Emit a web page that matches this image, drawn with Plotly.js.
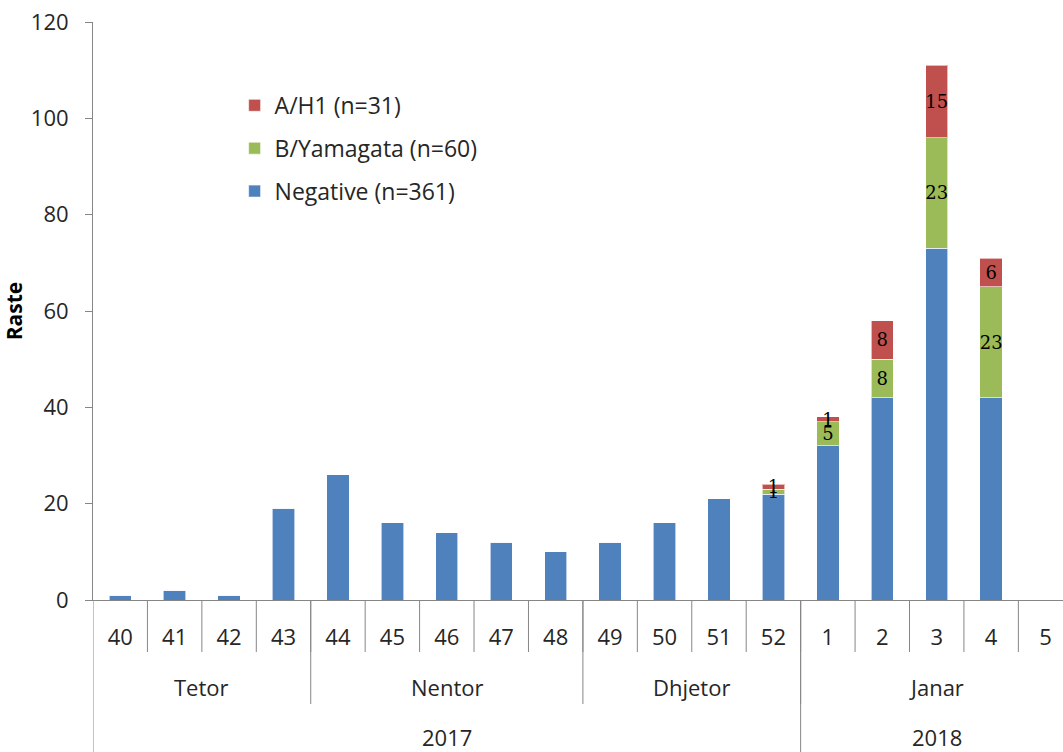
<!DOCTYPE html>
<html>
<head>
<meta charset="utf-8">
<script src="https://cdn.plot.ly/plotly-3.0.1.min.js"></script>
<style>
  html, body { margin: 0; padding: 0; background: #fff; }
  #chart { width: 1063px; height: 752px; }
</style>
</head>
<body>
<div id="chart"></div>
<script>
// weekly counts, weeks 40/2017 .. 5/2018
const weeks = ['40','41','42','43','44','45','46','47','48','49','50','51','52','1','2','3','4','5'];
const negative  = [1, 2, 1, 19, 26, 16, 14, 12, 10, 12, 16, 21, 22, 32, 42, 73, 42, 0];
const yamagata  = [0, 0, 0, 0, 0, 0, 0, 0, 0, 0, 0, 0, 1, 5, 8, 23, 23, 0];
const ah1       = [0, 0, 0, 0, 0, 0, 0, 0, 0, 0, 0, 0, 1, 1, 8, 15, 6, 0];

const months     = ['Tetor', 'Nentor', 'Dhjetor', 'Janar'];
const monthSpans = [4, 5, 4, 5];
const years      = ['2017', '2018'];
const yearSpans  = [13, 5];

const seriesNames = ['Negative (n=361)', 'B/Yamagata (n=60)', 'A/H1 (n=31)'];
const colors = ['#4F81BD', '#9BBB59', '#C0504D'];

const font = '"Open Sans", Lato, sans-serif';
const txt = '#262626';
const grey = '#868686';

function labels(vals) {
  return vals.map(v => v > 0 ? String(v) : '');
}

const traces = [negative, yamagata, ah1].map((vals, i) => ({
  type: 'bar',
  name: seriesNames[i],
  legendgroup: 'g' + i,
  legendrank: 3 - i,
  x: weeks,
  y: vals,
  width: 0.41,
  marker: {color: colors[i], line: {color: 'rgba(255,255,255,0.6)', width: 1}},
  text: i === 0 ? undefined : labels(vals),
  textposition: i === 0 ? 'none' : 'inside',
  insidetextanchor: 'middle',
  textangle: 0,
  textfont: {family: '"DejaVu Serif", "Liberation Serif", serif', size: 18, color: '#000'},
  hoverinfo: 'x+y+name',
}));

// dividers under the axis and group labels
const shapes = [];
const annotations = [];
const n = weeks.length;
shapes.push({type: 'line', xref: 'x', yref: 'paper', x0: -0.5, x1: -0.5, y0: 0, y1: -0.27,
  line: {color: grey, width: 1}});
for (let i = 0; i < n - 1; i++) {
  shapes.push({type: 'line', xref: 'x', yref: 'paper', x0: i + 0.5, x1: i + 0.5, y0: 0, y1: -0.09,
    line: {color: grey, width: 1}});
}
let start = 0;
months.forEach((m, k) => {
  const end = start + monthSpans[k];
  annotations.push({xref: 'x', yref: 'paper', x: (start + end - 1) / 2, y: -0.151, text: m,
    showarrow: false, yanchor: 'middle', font: {family: font, size: 22, color: txt}});
  if (k < months.length - 1) {
    shapes.push({type: 'line', xref: 'x', yref: 'paper', x0: end - 0.5, x1: end - 0.5, y0: 0, y1: -0.18,
      line: {color: grey, width: 1}});
  }
  start = end;
});
start = 0;
years.forEach((y, k) => {
  const end = start + yearSpans[k];
  annotations.push({xref: 'x', yref: 'paper', x: (start + end - 1) / 2, y: -0.237, text: y,
    showarrow: false, yanchor: 'middle', font: {family: font, size: 22, color: txt}});
  if (k < years.length - 1) {
    shapes.push({type: 'line', xref: 'x', yref: 'paper', x0: end - 0.5, x1: end - 0.5, y0: 0, y1: -0.27,
      line: {color: grey, width: 1}});
  }
  start = end;
});

const layout = {
  width: 1063,
  height: 752,
  margin: {l: 93, r: 0, t: 22, b: 152, pad: 0},
  paper_bgcolor: '#fff',
  plot_bgcolor: '#fff',
  barmode: 'stack',
  font: {family: font, size: 22, color: txt},
  showlegend: true,
  legend: {
    x: 0.146, y: 0.893, xanchor: 'left', yanchor: 'top',
    traceorder: 'grouped', tracegroupgap: 10,
    font: {family: font, size: 23, color: txt},
    bgcolor: 'rgba(0,0,0,0)',
  },
  uniformtext: {mode: 'show', minsize: 18},
  xaxis: {
    type: 'category',
    categoryorder: 'array',
    categoryarray: weeks,
    range: [-0.5, 17.32],
    showline: true, linecolor: grey, linewidth: 1,
    showgrid: false, zeroline: false,
    ticks: '',
    ticklabelstandoff: 18,
    tickfont: {family: font, size: 22, color: txt},
    fixedrange: true,
  },
  yaxis: {
    range: [0, 120],
    tickvals: [0, 20, 40, 60, 80, 100, 120],
    showline: true, linecolor: grey, linewidth: 1,
    showgrid: false, zeroline: false,
    ticks: 'outside', ticklen: 7, tickcolor: grey,
    ticklabelstandoff: 12,
    tickfont: {family: font, size: 22, color: txt},
    title: {text: '<b>Raste</b>', font: {family: font, size: 21, color: '#000'}, standoff: 14},
    fixedrange: true,
  },
  shapes: shapes,
  annotations: annotations,
};

Plotly.newPlot('chart', traces, layout, {displayModeBar: false, staticPlot: true});
</script>
</body>
</html>
